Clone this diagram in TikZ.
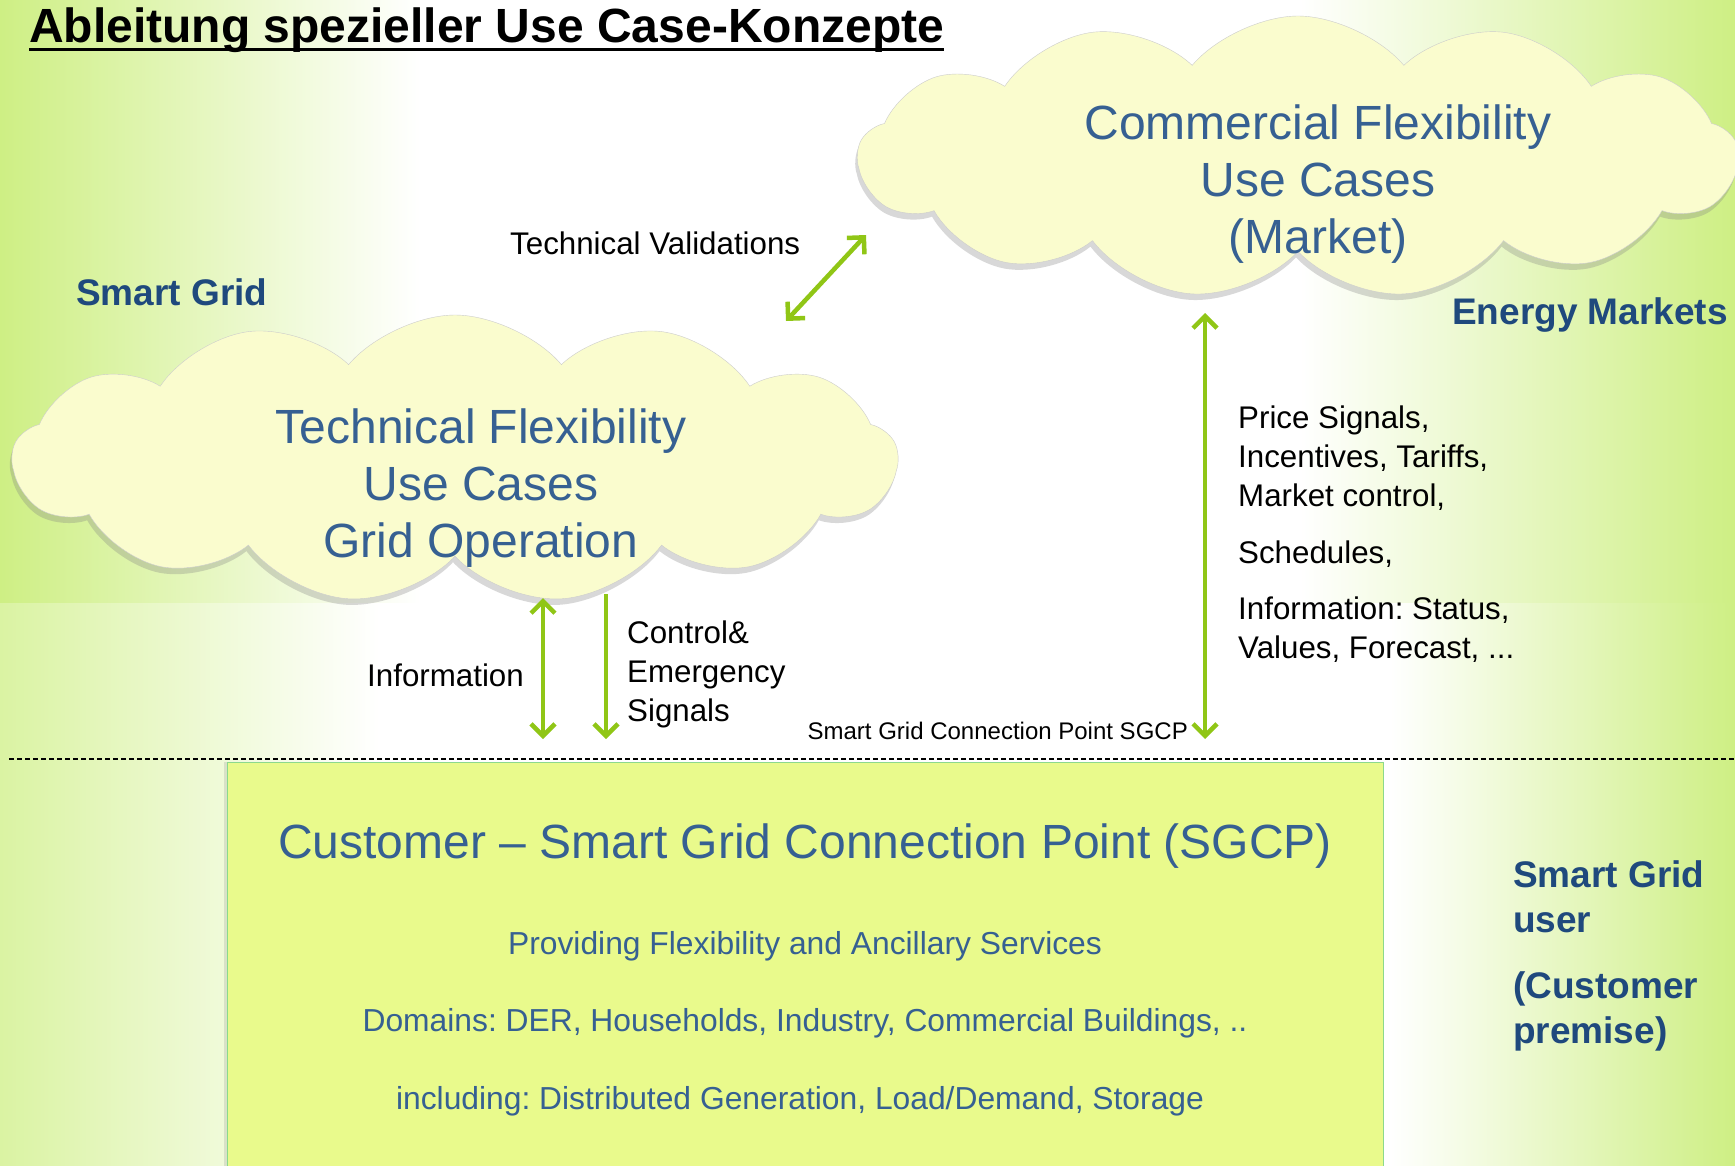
\documentclass[tikz,border=0pt]{standalone}
\usepackage{fontspec}
\setmainfont{Liberation Sans}
\frenchspacing
\usetikzlibrary{arrows.meta,shapes.symbols,shadows,positioning,calc}
\definecolor{sgblue}{RGB}{31,73,125}
\definecolor{cloudblue}{RGB}{54,96,146}
\definecolor{arrowgreen}{RGB}{144,198,22}
\definecolor{cloudfill}{RGB}{250,252,206}
\definecolor{boxfill}{RGB}{233,250,140}
\definecolor{bggreen}{RGB}{206,239,132}

\begin{document}
\begin{tikzpicture}[x=1pt, y=-1pt,
	cloudshape/.style={cloud, cloud puffs=13, cloud puff arc=100, cloud ignores aspect, draw=gray!40, fill=cloudfill, drop shadow={shadow xshift=-2pt, shadow yshift=-6pt, opacity=0.3}},
	cloudtext/.style={cloudblue, align=center, font=\fontsize{48}{57}\selectfont},
	areatext/.style={sgblue, font=\bfseries\fontsize{37}{44}\selectfont},
	plaintext/.style={font=\fontsize{31.3}{39}\selectfont, inner sep=0pt},
	boxtext/.style={cloudblue, font=\fontsize{31.8}{38}\selectfont, inner sep=0pt, anchor=base},
	flow/.style={line width=4.5pt, arrowgreen, {Straight Barb[length=12pt,width=24pt]}-{Straight Barb[length=12pt,width=24pt]}},
	downflow/.style={line width=4.5pt, arrowgreen, -{Straight Barb[length=12pt,width=24pt]}}]

	\useasboundingbox (0,0) rectangle (1735,1165);

	% background
	\shade[left color=bggreen, right color=white] (0,0) rectangle (420,603);
	\fill[white] (420,0) rectangle (1300,603);
	\shade[left color=white, right color=bggreen] (1300,0) rectangle (1735,603);
	\shade[left color=bggreen!75, right color=white] (0,603) rectangle (380,1165);
	\fill[white] (380,603) rectangle (1390,1165);
	\shade[left color=white, right color=bggreen] (1390,603) rectangle (1735,1165);

	% title
	\node[anchor=base west, inner sep=0pt, font=\bfseries\fontsize{48}{56}\selectfont] (title) at (29,42) {Ableitung spezieller Use Case-Konzepte};
	\draw[line width=3pt] ($(title.base west)+(0,7)$) -- ($(title.base east)+(0,7)$);

	% clouds
	\node[cloudshape, minimum width=880pt, minimum height=282pt] (market) at (1298,157) {};
	\node[cloudtext] (markettxt) at (1318,184) {Commercial Flexibility\\Use Cases\\(Market)};
	\node[cloudshape, minimum width=885pt, minimum height=288pt] (grid) at (455,459) {};
	\node[cloudtext] (gridtxt) at (481,488) {Technical Flexibility\\Use Cases\\Grid Operation};

	% area labels (base = last line)
	\node[areatext, anchor=base west, inner sep=0pt] (smartgrid) at (76,305) {Smart Grid};
	\node[areatext, anchor=base east, inner sep=0pt] (markets) at (1728,324) {Energy Markets};
	\node[areatext, anchor=base west, inner sep=0pt, align=left, font=\bfseries\fontsize{37}{45}\selectfont] (user) at (1513,1043) {Smart Grid\\user\\[21pt](Customer\\premise)};

	% customer box
	\node[draw=green!50!gray!60, fill=boxfill, minimum width=1156pt, minimum height=420pt, anchor=north west, drop shadow={shadow xshift=-3pt, shadow yshift=0pt, opacity=0.2}] (sgcp) at (227,762) {};
	\node[boxtext, font=\fontsize{48}{56}\selectfont] (sgcptitle) at (805,858) {Customer -- Smart Grid Connection Point (SGCP)};
	\node[boxtext] (providing) at (805,954) {Providing Flexibility and Ancillary Services};
	\node[boxtext] (domains) at (805,1031) {Domains: DER, Households, Industry, Commercial Buildings, ..};
	\node[boxtext] (including) at (800,1109) {including: Distributed Generation, Load/Demand, Storage};

	% border line
	\draw[line width=1.4pt, dash pattern=on 5pt off 3pt] (9,759) -- (1735,759);

	% connectors
	\coordinate (tvlow) at (786,321);
	\coordinate (tvhigh) at (866,235);
	\draw[flow] (tvlow) -- (tvhigh);
	\node[plaintext, anchor=base west] (tvlabel) at (510,254) {Technical Validations};

	\coordinate (infotop) at (543,598);
	\coordinate (infobot) at (543,739);
	\draw[flow] (infotop) -- (infobot);
	\node[plaintext, anchor=base east] (infolabel) at (524,686) {Information};

	\coordinate (ctrltop) at (606,594);
	\coordinate (ctrlbot) at (606,739);
	\draw[downflow] (ctrltop) -- (ctrlbot);
	\node[plaintext, anchor=base west, align=left] (ctrllabel) at (627,721) {Control\&\\Emergency\\Signals};

	\coordinate (mkttop) at (1205,313);
	\coordinate (mktbot) at (1205,739);
	\draw[flow] (mkttop) -- (mktbot);
	\node[anchor=base east, inner sep=0pt, font=\fontsize{24}{28}\selectfont] (sgcplabel) at (1188,739) {Smart Grid Connection Point SGCP};

	\node[plaintext, anchor=base west, align=left] (prices) at (1238,506) {Price Signals,\\Incentives, Tariffs,\\Market control,};
	\node[plaintext, anchor=base west] (schedules) at (1238,563) {Schedules,};
	\node[plaintext, anchor=base west, align=left] (status) at (1238,658) {Information: Status,\\Values, Forecast, ...};

\end{tikzpicture}
\end{document}
